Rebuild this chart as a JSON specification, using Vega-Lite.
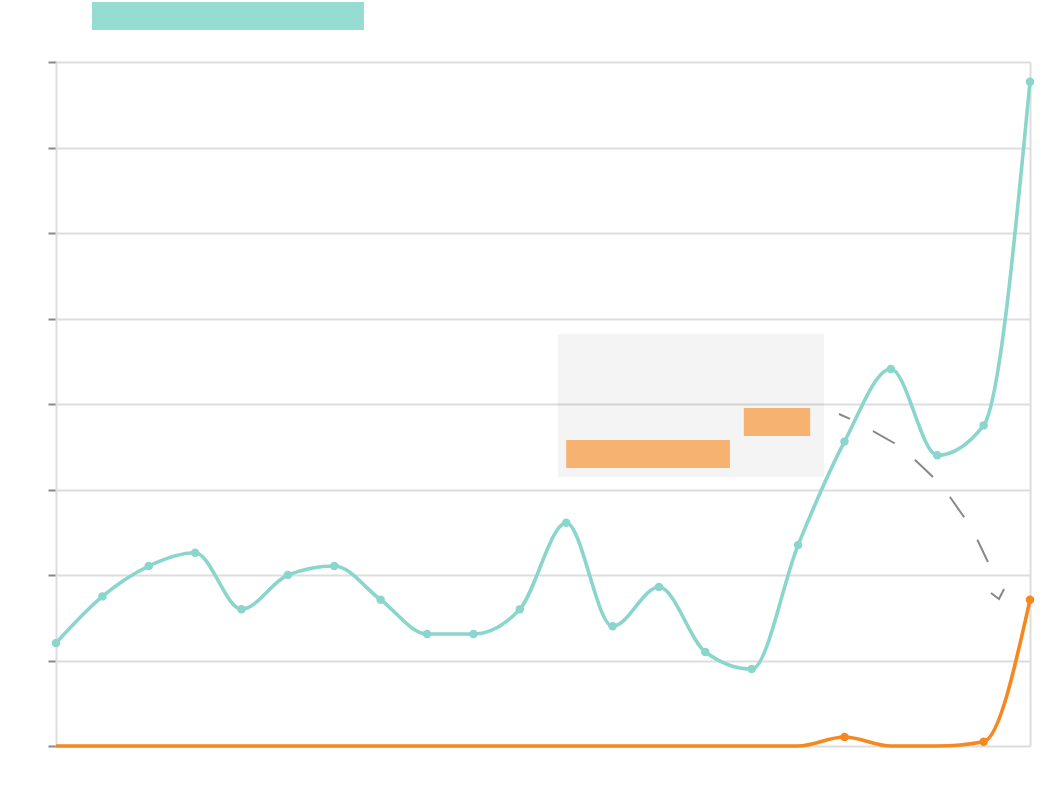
{
  "$schema": "https://vega.github.io/schema/vega-lite/v6.json",
  "width": 974,
  "height": 684,
  "autosize": {"type": "none"},
  "padding": {"left": 56, "top": 62, "right": 22, "bottom": 46},
  "background": "#ffffff",
  "view": {"stroke": null},
  "config": {
    "axis": {"labels": false, "title": null}
  },
  "datasets": {
    "series": [
      {"i": 0, "series": "A", "value": 12.05}, {"i": 1, "series": "A", "value": 17.5},
      {"i": 2, "series": "A", "value": 21.05}, {"i": 3, "series": "A", "value": 22.6},
      {"i": 4, "series": "A", "value": 16.0}, {"i": 5, "series": "A", "value": 20.0},
      {"i": 6, "series": "A", "value": 21.05}, {"i": 7, "series": "A", "value": 17.1},
      {"i": 8, "series": "A", "value": 13.1}, {"i": 9, "series": "A", "value": 13.1},
      {"i": 10, "series": "A", "value": 16.0}, {"i": 11, "series": "A", "value": 26.1},
      {"i": 12, "series": "A", "value": 14.0}, {"i": 13, "series": "A", "value": 18.6},
      {"i": 14, "series": "A", "value": 11.0}, {"i": 15, "series": "A", "value": 9.0},
      {"i": 16, "series": "A", "value": 23.5}, {"i": 17, "series": "A", "value": 35.6},
      {"i": 18, "series": "A", "value": 44.1}, {"i": 19, "series": "A", "value": 34.0},
      {"i": 20, "series": "A", "value": 37.5}, {"i": 21, "series": "A", "value": 77.7},
      {"i": 0, "series": "B", "value": 0}, {"i": 1, "series": "B", "value": 0},
      {"i": 2, "series": "B", "value": 0}, {"i": 3, "series": "B", "value": 0},
      {"i": 4, "series": "B", "value": 0}, {"i": 5, "series": "B", "value": 0},
      {"i": 6, "series": "B", "value": 0}, {"i": 7, "series": "B", "value": 0},
      {"i": 8, "series": "B", "value": 0}, {"i": 9, "series": "B", "value": 0},
      {"i": 10, "series": "B", "value": 0}, {"i": 11, "series": "B", "value": 0},
      {"i": 12, "series": "B", "value": 0}, {"i": 13, "series": "B", "value": 0},
      {"i": 14, "series": "B", "value": 0}, {"i": 15, "series": "B", "value": 0},
      {"i": 16, "series": "B", "value": 0}, {"i": 17, "series": "B", "value": 1.05},
      {"i": 18, "series": "B", "value": 0}, {"i": 19, "series": "B", "value": 0},
      {"i": 20, "series": "B", "value": 0.5}, {"i": 21, "series": "B", "value": 17.1}
    ],
    "blocks": [
      {"kind": "panel", "x0": 10.82, "x1": 16.56, "y0": 31.46, "y1": 48.19},
      {"kind": "tag", "x0": 14.83, "x1": 16.26, "y0": 36.26, "y1": 39.53},
      {"kind": "tag", "x0": 11.0, "x1": 14.53, "y0": 32.51, "y1": 35.79},
      {"kind": "key", "x0": 0.776, "x1": 6.64, "y0": 83.74, "y1": 87.02}
    ],
    "arrow": [
      {"part": "shaft", "k": 0, "x": 16.882, "y": 38.83},
      {"part": "shaft", "k": 1, "x": 17.119, "y": 38.25},
      {"part": "shaft", "k": 2, "x": 17.615, "y": 36.84},
      {"part": "shaft", "k": 3, "x": 18.068, "y": 35.44},
      {"part": "shaft", "k": 4, "x": 18.499, "y": 33.57},
      {"part": "shaft", "k": 5, "x": 18.909, "y": 31.46},
      {"part": "shaft", "k": 6, "x": 19.275, "y": 29.12},
      {"part": "shaft", "k": 7, "x": 19.577, "y": 26.78},
      {"part": "shaft", "k": 8, "x": 19.857, "y": 24.21},
      {"part": "shaft", "k": 9, "x": 20.094, "y": 21.52},
      {"part": "head", "k": 0, "x": 20.159, "y": 17.89},
      {"part": "head", "k": 1, "x": 20.332, "y": 17.19},
      {"part": "head", "k": 2, "x": 20.44, "y": 18.36}
    ]
  },
  "layer": [
    {
      "data": {"name": "blocks"},
      "transform": [{"filter": "datum.kind === 'panel'"}],
      "mark": {"type": "rect", "fill": "#000000", "opacity": 0.045},
      "encoding": {
        "x": {
          "field": "x0", "type": "quantitative",
          "scale": {"domain": [0, 21], "nice": false, "zero": false},
          "axis": {"domain": false, "ticks": false, "grid": true, "values": [21], "gridColor": "#dddddd", "gridWidth": 2}
        },
        "x2": {"field": "x1"},
        "y": {
          "field": "y0", "type": "quantitative",
          "scale": {"domain": [0, 80], "nice": false, "zero": true},
          "axis": {
            "values": [0, 10, 20, 30, 40, 50, 60, 70, 80],
            "domain": true, "domainColor": "#dddddd", "domainWidth": 2,
            "ticks": true, "tickColor": "#888888", "tickSize": 8, "tickWidth": 2,
            "grid": true, "gridColor": "#dddddd", "gridWidth": 2
          }
        },
        "y2": {"field": "y1"}
      }
    },
    {
      "data": {"name": "series"},
      "mark": {"type": "line", "interpolate": "monotone", "strokeWidth": 3.6},
      "encoding": {
        "x": {"field": "i", "type": "quantitative"},
        "y": {"field": "value", "type": "quantitative"},
        "color": {
          "field": "series", "type": "nominal",
          "scale": {"domain": ["A", "B"], "range": ["#8ad6cc", "#f5891f"]},
          "legend": null
        }
      }
    },
    {
      "data": {"name": "series"},
      "transform": [{"filter": "datum.series === 'A' || datum.value > 0"}],
      "mark": {"type": "point", "filled": true, "opacity": 1, "size": 72},
      "encoding": {
        "x": {"field": "i", "type": "quantitative"},
        "y": {"field": "value", "type": "quantitative"},
        "color": {"field": "series", "type": "nominal", "legend": null}
      }
    },
    {
      "data": {"name": "arrow"},
      "transform": [{"filter": "datum.part === 'shaft'"}],
      "mark": {"type": "line", "color": "#888888", "strokeWidth": 2, "strokeDash": [25, 26], "strokeDashOffset": 13},
      "encoding": {
        "x": {"field": "x", "type": "quantitative"},
        "y": {"field": "y", "type": "quantitative"},
        "order": {"field": "k"}
      }
    },
    {
      "data": {"name": "arrow"},
      "transform": [{"filter": "datum.part === 'head'"}],
      "mark": {"type": "line", "color": "#888888", "strokeWidth": 2},
      "encoding": {
        "x": {"field": "x", "type": "quantitative"},
        "y": {"field": "y", "type": "quantitative"},
        "order": {"field": "k"}
      }
    },
    {
      "data": {"name": "blocks"},
      "transform": [{"filter": "datum.kind !== 'panel'"}],
      "mark": {"type": "rect"},
      "encoding": {
        "x": {"field": "x0", "type": "quantitative"},
        "x2": {"field": "x1"},
        "y": {"field": "y0", "type": "quantitative"},
        "y2": {"field": "y1"},
        "fill": {
          "field": "kind", "type": "nominal",
          "scale": {"domain": ["tag", "key"], "range": ["#f5b271", "#97dcd3"]},
          "legend": null
        }
      }
    }
  ]
}
